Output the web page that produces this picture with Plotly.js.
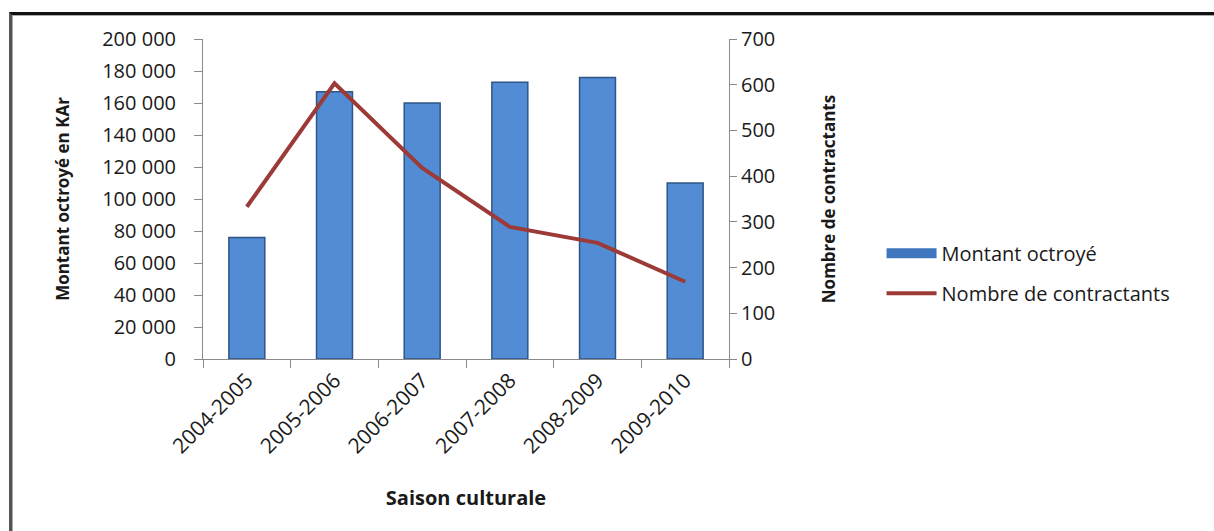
<!DOCTYPE html>
<html>
<head>
<meta charset="utf-8">
<script src="https://cdn.plot.ly/plotly-3.0.1.min.js"></script>
<style>
  html, body { margin: 0; padding: 0; background: #fff; }
  #chart { position: absolute; left: 0; top: 0; width: 1214px; height: 531px; }
  #frame { position: absolute; left: 9px; top: 12px; width: 1230px; height: 560px;
           border-top: 3px solid #111; border-left: 3px solid #555;
           box-shadow: inset 1px 1px 0 #aaa; pointer-events: none; }
</style>
</head>
<body>
<div id="chart"></div>
<div id="frame"></div>
<script>
const seasons = ["2004-2005", "2005-2006", "2006-2007", "2007-2008", "2008-2009", "2009-2010"];
const montantOctroye = [76000, 167000, 160000, 173000, 176000, 110000];
const nombreContractants = [333, 603, 418, 289, 254, 169];
const leftTickVals = [0, 20000, 40000, 60000, 80000, 100000, 120000, 140000, 160000, 180000, 200000];
const leftTickText = ["0", "20 000", "40 000", "60 000", "80 000", "100 000", "120 000", "140 000", "160 000", "180 000", "200 000"];
const rightTickVals = [0, 100, 200, 300, 400, 500, 600, 700];

const FONT = "'Open Sans', Lato, sans-serif";
const TXT = "#1a1a1a";
const BAR_BLUE = "#528cd5";

const traces = [
  {
    type: "bar",
    name: "Montant octroyé",
    showlegend: false,
    x: seasons,
    y: montantOctroye,
    width: 0.41,
    marker: { color: BAR_BLUE, line: { color: "#2f5586", width: 1.5 } },
    yaxis: "y"
  },
  {
    // legend entry for the bars, drawn as a wide rectangle like the original
    type: "scatter",
    mode: "lines",
    name: "Montant octroyé",
    legendgroup: "a",
    x: [null],
    y: [null],
    line: { color: "#3f76bd", width: 10 },
    yaxis: "y",
    hoverinfo: "skip"
  },
  {
    type: "scatter",
    mode: "lines",
    name: "Nombre de contractants",
    legendgroup: "b",
    x: seasons,
    y: nombreContractants,
    line: { color: "#9c3a37", width: 4 },
    yaxis: "y2"
  }
];

const layout = {
  width: 1214,
  height: 531,
  margin: { l: 203, r: 485, t: 39, b: 172 },
  paper_bgcolor: "rgba(0,0,0,0)",
  plot_bgcolor: "rgba(0,0,0,0)",
  font: { family: FONT, size: 19, color: TXT },
  showlegend: true,
  legend: {
    x: 1.29, y: 0.268, xanchor: "left", yanchor: "middle",
    font: { family: FONT, size: 20, color: TXT },
    itemwidth: 50, tracegroupgap: 11, bgcolor: "rgba(0,0,0,0)"
  },
  xaxis: {
    type: "category",
    showline: true, linecolor: "#8a8a8a", linewidth: 1,
    ticks: "outside", ticklen: 8, tickcolor: "#8a8a8a", tickson: "boundaries",
    tickangle: -45,
    tickfont: { family: FONT, size: 21, color: TXT },
    showgrid: false, zeroline: false,
    title: { text: "<b>Saison culturale</b>", font: { family: FONT, size: 20, color: TXT }, standoff: 32 }
  },
  yaxis: {
    range: [0, 200000],
    tickvals: leftTickVals, ticktext: leftTickText,
    showline: true, linecolor: "#8a8a8a", linewidth: 1,
    ticks: "outside", ticklen: 8, tickcolor: "#8a8a8a",
    ticklabelstandoff: 14,
    tickfont: { family: FONT, size: 20, color: TXT },
    showgrid: false, zeroline: false,
    title: { text: "<b>Montant octroyé en KAr</b>", font: { family: FONT, size: 17, color: TXT }, standoff: 28 }
  },
  yaxis2: {
    overlaying: "y", side: "right",
    range: [0, 700],
    tickvals: rightTickVals,
    showline: true, linecolor: "#8a8a8a", linewidth: 1,
    ticks: "outside", ticklen: 7, tickcolor: "#8a8a8a",
    tickfont: { family: FONT, size: 20, color: TXT },
    showgrid: false, zeroline: false,
    title: { text: "<b>Nombre de contractants</b>", font: { family: FONT, size: 17, color: TXT }, standoff: 48 }
  },
  bargap: 0.59
};

Plotly.newPlot("chart", traces, layout, { displayModeBar: false, staticPlot: true });
</script>
</body>
</html>
